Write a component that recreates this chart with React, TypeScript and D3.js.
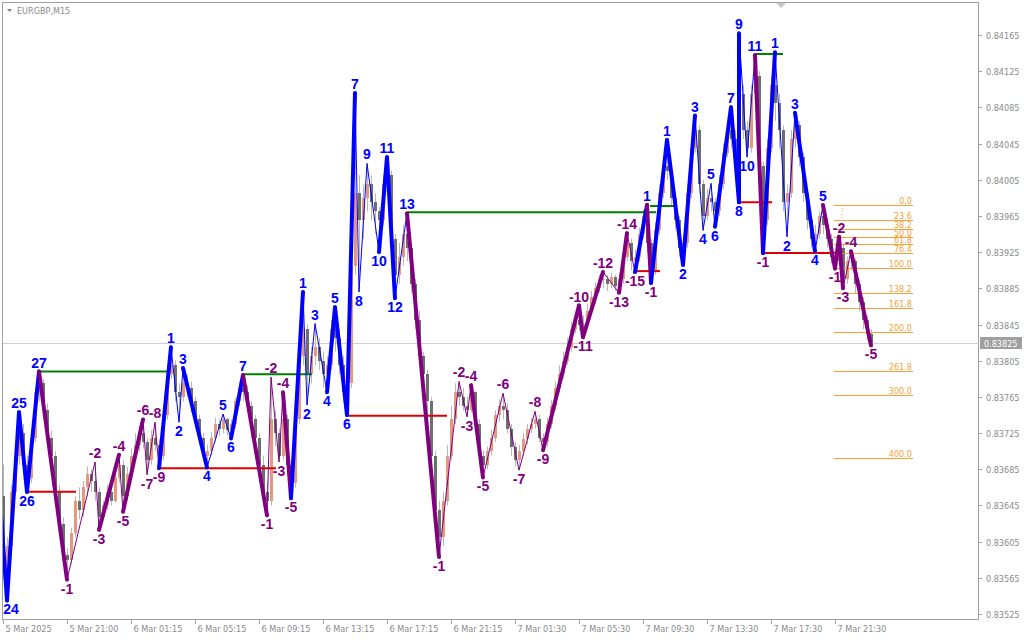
import React from 'react';
import * as d3 from 'd3';

// ---------- data (prices in points, 1 point = 0.00001) ----------
const firstOpen = 83655;
const closes = [
  83575, 83600, 83660, 83700, 83725, 83690, 83675, 83720, 83770, 83780,
  83750, 83720, 83700, 83660, 83625, 83590, 83585, 83615, 83650, 83640,
  83665, 83680, 83672, 83660, 83632, 83645, 83660, 83650, 83675, 83690,
  83655, 83680, 83700, 83712, 83725, 83715, 83695, 83720, 83712, 83700,
  83745, 83790, 83800, 83770, 83765, 83780, 83775, 83760, 83740, 83720,
  83700, 83705, 83720, 83735, 83730, 83740, 83728, 83735, 83760, 83775,
  83770, 83755, 83740, 83720, 83690, 83660, 83650, 83740, 83725, 83700,
  83740, 83690, 83670, 83740, 83810, 83840, 83790, 83810, 83820, 83805,
  83790, 83800, 83840, 83830, 83800, 83770, 83780, 83910, 83990, 83960,
  83985, 84000, 83980, 83970, 83960, 84000, 84010, 83940, 83900, 83920,
  83945, 83930, 83890, 83850, 83810, 83790, 83760, 83700, 83640, 83610,
  83650, 83700, 83740, 83770, 83765, 83755, 83750, 83770, 83735, 83700,
  83690, 83705, 83720, 83745, 83755, 83750, 83730, 83710, 83695, 83705,
  83718, 83730, 83735, 83740, 83720, 83715, 83735, 83755, 83775, 83790,
  83805, 83820, 83840, 83850, 83845, 83845, 83860, 83875, 83885, 83895,
  83895, 83890, 83898, 83888, 83895, 83920, 83935, 83915, 83920, 83945,
  83965, 83935, 83905, 83950, 83990, 84020, 84015, 83985, 83960, 83930,
  83935, 83990, 84040, 84060, 84000, 83965, 83985, 83980, 83970, 84000,
  84035, 84060, 84050, 84020, 84100, 84060, 84040, 84100, 84120, 84020,
  83960, 84040, 84110, 84090, 84060, 83980, 83990, 84050, 84065, 84030,
  83990, 83960, 83940, 83945, 83965, 83955, 83940, 83920, 83915, 83930,
  83895, 83915, 83915, 83890, 83870, 83850, 83835, 83825,
];
const highs = [
  83690, 83610, 83668, 83712, 83748, 83735, 83700, 83728, 83775, 83793,
  83785, 83758, 83728, 83705, 83668, 83632, 83598, 83620, 83655, 83665,
  83672, 83688, 83685, 83693, 83665, 83650, 83668, 83672, 83685, 83701,
  83695, 83688, 83708, 83725, 83733, 83740, 83720, 83728, 83737, 83718,
  83755, 83800, 83820, 83805, 83780, 83797, 83790, 83782, 83765, 83745,
  83725, 83712, 83726, 83742, 83740, 83746, 83742, 83740, 83765, 83782,
  83789, 83778, 83760, 83745, 83725, 83700, 83672, 83787, 83750, 83730,
  83770, 83745, 83695, 83748, 83820, 83881, 83845, 83820, 83846, 83830,
  83815, 83810, 83850, 83864, 83840, 83810, 83795, 83920, 84101, 84010,
  84000, 84023, 84010, 83990, 83975, 84010, 84030, 84015, 83945, 83935,
  83955, 83968, 83935, 83895, 83860, 83815, 83795, 83765, 83705, 83650,
  83660, 83712, 83755, 83780, 83782, 83775, 83765, 83778, 83772, 83740,
  83705, 83710, 83728, 83750, 83762, 83769, 83758, 83735, 83715, 83712,
  83725, 83735, 83742, 83749, 83745, 83725, 83742, 83762, 83782, 83800,
  83815, 83830, 83848, 83858, 83866, 83855, 83868, 83882, 83892, 83900,
  83903, 83900, 83902, 83900, 83902, 83930, 83946, 83940, 83928, 83952,
  83972, 83977, 83940, 83958, 84000, 84030, 84049, 84025, 83990, 83965,
  83945, 84000, 84050, 84076, 84065, 84005, 83995, 84001, 83985, 84010,
  84045, 84070, 84085, 84060, 84167, 84110, 84070, 84110, 84143, 84125,
  84025, 84050, 84120, 84146, 84100, 84065, 84000, 84060, 84079, 84070,
  84035, 83995, 83965, 83955, 83970, 83977, 83960, 83945, 83925, 83942,
  83935, 83920, 83926, 83918, 83895, 83875, 83855, 83840,
];
const lows = [
  83565, 83540, 83592, 83655, 83690, 83680, 83660, 83670, 83715, 83760,
  83745, 83712, 83690, 83650, 83615, 83580, 83563, 83580, 83610, 83630,
  83632, 83655, 83660, 83650, 83618, 83628, 83640, 83645, 83648, 83670,
  83638, 83650, 83675, 83695, 83705, 83708, 83679, 83690, 83705, 83686,
  83695, 83740, 83785, 83760, 83737, 83760, 83765, 83748, 83730, 83712,
  83695, 83687, 83700, 83715, 83722, 83725, 83722, 83719, 83730, 83755,
  83760, 83748, 83720, 83700, 83680, 83645, 83634, 83645, 83710, 83693,
  83695, 83680, 83653, 83665, 83735, 83800, 83756, 83780, 83800, 83795,
  83775, 83770, 83795, 83815, 83790, 83760, 83745, 83775, 83900, 83881,
  83940, 83970, 83960, 83945, 83925, 83955, 83990, 83930, 83874, 83890,
  83910, 83915, 83880, 83840, 83800, 83770, 83740, 83690, 83620, 83588,
  83600, 83645, 83695, 83735, 83755, 83750, 83743, 83748, 83725, 83690,
  83676, 83685, 83700, 83715, 83738, 83740, 83725, 83700, 83688, 83684,
  83700, 83712, 83725, 83730, 83715, 83706, 83710, 83730, 83750, 83770,
  83785, 83800, 83815, 83835, 83838, 83831, 83840, 83855, 83868, 83880,
  83885, 83882, 83885, 83882, 83880, 83890, 83915, 83905, 83903, 83915,
  83940, 83925, 83891, 83900, 83945, 83985, 84005, 83975, 83950, 83920,
  83911, 83930, 83985, 84035, 83990, 83949, 83960, 83970, 83953, 83965,
  83995, 84030, 84040, 84010, 83980, 84050, 84030, 84035, 84090, 84000,
  83924, 83955, 84035, 84070, 84040, 83970, 83942, 83985, 84040, 84020,
  83980, 83950, 83930, 83926, 83940, 83945, 83930, 83912, 83907, 83910,
  83885, 83890, 83905, 83880, 83860, 83840, 83828, 83822,
];

// zigzag wave-count pivots
const zzBars = [
  -2, 1, 4, 6, 9, 16, 23, 24, 29, 30, 35, 36, 38, 39, 42, 44, 45, 51, 55, 57,
  60, 66, 67, 69, 70, 72, 75, 76, 78, 81, 83, 86, 88, 89, 91, 94, 96, 98, 101, 109,
  114, 116, 117, 120, 125, 129, 133, 135, 144, 145, 150, 154, 156, 158, 161, 162, 166, 170, 173, 175,
  177, 178, 182, 184, 184, 186, 188, 190, 193, 196, 198, 203, 205, 208, 209, 210, 212, 217,
];
const zzPrices = [
  83732, 83540, 83748, 83660, 83793, 83563, 83693, 83618, 83701, 83638, 83740, 83679, 83737, 83686, 83820, 83737, 83797, 83687, 83746, 83719,
  83789, 83634, 83787, 83693, 83770, 83653, 83881, 83756, 83846, 83770, 83864, 83745, 84101, 83881, 84023, 83925, 84030, 83874, 83968, 83588,
  83782, 83743, 83778, 83676, 83769, 83684, 83749, 83706, 83866, 83831, 83903, 83880, 83946, 83903, 83977, 83891, 84049, 83911, 84076, 83949,
  84001, 83953, 84085, 83980, 84167, 84030, 84143, 83924, 84146, 83942, 84079, 83926, 83977, 83907, 83942, 83885, 83926, 83822,
];
const zzLabels = [
  '23', '24', '25', '26', '27', '-1', '-2', '-3', '-4', '-5', '-6', '-7', '-8', '-9', '1', '2', '3', '4', '5', '6',
  '7', '-1', '-2', '-3', '-4', '-5', '1', '2', '3', '4', '5', '6', '7', '8', '9', '10', '11', '12', '13', '-1',
  '-2', '-3', '-4', '-5', '-6', '-7', '-8', '-9', '-10', '-11', '-12', '-13', '-14', '-15', '1', '-1', '1', '2', '3', '4',
  '5', '6', '7', '8', '9', '10', '11', '-1', '1', '2', '3', '4', '5', '-1', '-2', '-3', '-4', '-5',
];
// segment kinds: B = bull major, b = bull minor, P = bear major, p = bear minor
const zzSegKinds =
  'BBBBPppPpPpppBbbBbbBPpppPBbbbBBBbbbBBb' + 'PpppPppppPPPpPpBPBBBbbbBBBbbPBbbBbPPPpP';

// break levels: start bar, end bar, price, kind (up = resistance, down = support)
const lvlStart = [9, 6.5, 39.25, 60, 86, 101.25, 161.75, 158.25, 184, 188, 190];
const lvlEnd = [41.75, 18.25, 68.25, 77.25, 111, 163.25, 168.25, 164.25, 192.25, 195, 208];
const lvlPrice = [83793, 83660, 83686, 83790, 83744, 83969, 83976, 83904, 83980, 84144, 83924];
const lvlKind = ['up', 'down', 'down', 'up', 'down', 'up', 'up', 'down', 'down', 'up', 'down'];

// fibonacci projection
const fibLevels = [0, 23.6, 38.2, 50, 61.8, 76.4, 100, 138.2, 161.8, 200, 261.8, 300, 400];
const fibP0 = 83977;
const fibP100 = 83907;
const fibStartBar = 207.75;
const fibEndBar = 227.5;

const timeLabels = [
  '5 Mar 2025', '5 Mar 21:00', '6 Mar 01:15', '6 Mar 05:15', '6 Mar 09:15', '6 Mar 13:15', '6 Mar 17:15',
  '6 Mar 21:15', '7 Mar 01:30', '7 Mar 05:30', '7 Mar 09:30', '7 Mar 13:30', '7 Mar 17:30', '7 Mar 21:30',
];
const timeLabelBars = [0, 16, 32, 48, 64, 80, 96, 112, 128, 144, 160, 176, 192, 208];
const priceTicks = [
  83525, 83565, 83605, 83645, 83685, 83725, 83765, 83805, 83845, 83885, 83925, 83965, 84005, 84045, 84085, 84125, 84165,
];
const currentPrice = 83825;
const symbol = 'EURGBP,M15';

// ---------- drawing ----------
const BLUE = '#0000FF';
const PURPLE = '#800080';
const GREEN = '#008000';
const RED = '#DD0000';
const ORANGE = '#F4A236';
const AXIS_FONT = 'Tahoma, "DejaVu Sans Condensed", "DejaVu Sans", sans-serif';
const LABEL_FONT = '"Liberation Sans", Arial, sans-serif';

export default function App() {
  const plotL = 2, plotT = 2, plotR = 978, plotB = 619;
  const x = d3.scaleLinear().domain([0, 217]).range([3, 871]);
  const y = d3.scaleLinear().domain([83525, 84165]).range([614, 35]);

  const opens = closes.map((c, i) => (i === 0 ? firstOpen : closes[i - 1]));

  const candles = closes.map((c, i) => {
    const o = opens[i];
    const hi = Math.max(highs[i], o, c);
    const lo = Math.min(lows[i], o, c);
    const cx = Math.round(x(i));
    const bull = c >= o;
    const top = Math.round(y(Math.max(o, c)));
    const bot = Math.round(y(Math.min(o, c)));
    return (
      <g key={'c' + i}>
        <line x1={cx + 0.5} x2={cx + 0.5} y1={y(hi)} y2={y(lo)} stroke="#B8B8B8" strokeWidth={1} />
        <rect x={cx - 1} y={top} width={3} height={Math.max(1, bot - top)} fill={bull ? '#E9967A' : '#6E6E6E'} />
      </g>
    );
  });

  const segs = [];
  for (let i = 0; i < zzBars.length - 1; i++) {
    const k = zzSegKinds[i];
    const major = k === 'B' || k === 'P';
    const color = k === 'B' || k === 'b' ? BLUE : PURPLE;
    segs.push({
      x1: x(zzBars[i]), y1: y(zzPrices[i]), x2: x(zzBars[i + 1]), y2: y(zzPrices[i + 1]),
      color, major, key: 's' + i,
    });
  }

  const isHigh = zzPrices.map((p, i) => {
    const prev = i > 0 ? zzPrices[i - 1] : null;
    const next = i < zzPrices.length - 1 ? zzPrices[i + 1] : null;
    if (next !== null) return p > next;
    return prev !== null ? p > prev : true;
  });

  const priceAt = (L) => fibP0 - (fibP0 - fibP100) * L / 100;

  return (
    <svg width={1024} height={640} style={{ position: 'absolute', left: 0, top: 0, background: '#fff' }}>
      <defs>
        <clipPath id="plot">
          <rect x={plotL} y={plotT} width={plotR - plotL} height={plotB - plotT} />
        </clipPath>
      </defs>
      <rect x={0} y={0} width={1024} height={640} fill="#fff" />
      <g clipPath="url(#plot)">
        {/* current price line */}
        <line x1={plotL} x2={plotR} y1={Math.round(y(currentPrice)) + 0.5} y2={Math.round(y(currentPrice)) + 0.5} stroke="#D0D0D0" />
        {candles}
        {/* levels */}
        {lvlStart.map((s, i) => (
          <line key={'l' + i} x1={x(s)} x2={x(lvlEnd[i])} y1={y(lvlPrice[i])} y2={y(lvlPrice[i])}
            stroke={lvlKind[i] === 'up' ? GREEN : RED} strokeWidth={2} />
        ))}
        {/* fibonacci */}
        {fibLevels.map((L, i) => {
          const yy = Math.round(y(priceAt(L))) + 0.5;
          return (
            <g key={'f' + i}>
              <line x1={x(fibStartBar)} x2={x(fibEndBar)} y1={yy} y2={yy} stroke={ORANGE} strokeWidth={1} />
              <text x={x(fibEndBar) - 1} y={yy - 2} textAnchor="end" fontFamily={AXIS_FONT} fontSize={9} fill={ORANGE}>
                {L.toFixed(1)}
              </text>
            </g>
          );
        })}
        <line x1={x(210)} y1={y(fibP0)} x2={x(209.3)} y2={y(83945)} stroke={ORANGE} strokeDasharray="1,2" />
        {/* zigzag minor then major */}
        {segs.filter((s) => !s.major).map((s) => (
          <line key={s.key} x1={s.x1} y1={s.y1} x2={s.x2} y2={s.y2} stroke={s.color} strokeWidth={1} />
        ))}
        {segs.filter((s) => s.major).map((s) => (
          <line key={s.key} x1={s.x1} y1={s.y1} x2={s.x2} y2={s.y2} stroke={s.color} strokeWidth={4} strokeLinecap="round" />
        ))}
        {/* labels */}
        {zzLabels.map((t, i) => {
          const px = i === 0 ? x(zzBars[i]) : Math.max(x(zzBars[i]), plotL + 9);
          const py = y(zzPrices[i]);
          const neg = t.startsWith('-');
          return (
            <text key={'t' + i} x={px} y={isHigh[i] ? py - 4 : py + 14} textAnchor="middle"
              fontFamily={LABEL_FONT} fontWeight="bold" fontSize={14} fill={neg ? PURPLE : BLUE}>
              {t}
            </text>
          );
        })}
      </g>
      {/* frame */}
      <rect x={plotL + 0.5} y={plotT + 0.5} width={plotR - plotL} height={plotB - plotT} fill="none" stroke="#A0A0A0" />
      {/* shift marker */}
      <path d="M776,3 L786,3 L781,8 Z" fill="#C8C8C8" />
      {/* title */}
      <path d="M7,9 L12,9 L9.5,12 Z" fill="#808080" />
      <text x={17} y={14} fontFamily={AXIS_FONT} fontSize={9} fill="#8A8A8A">{symbol}</text>
      {/* price axis */}
      {priceTicks.map((p, i) => {
        const yy = Math.round(y(p)) + 0.5;
        return (
          <g key={'p' + i}>
            <line x1={plotR + 1} x2={plotR + 4} y1={yy} y2={yy} stroke="#A0A0A0" />
            <text x={986} y={yy + 3} fontFamily={AXIS_FONT} fontSize={9} fill="#8A8A8A">
              {(p / 100000).toFixed(5)}
            </text>
          </g>
        );
      })}
      <rect x={980} y={Math.round(y(currentPrice)) - 6} width={42} height={12} fill="#A0A0A0" />
      <text x={984} y={Math.round(y(currentPrice)) + 4} fontFamily={AXIS_FONT} fontSize={9} fill="#fff">
        {(currentPrice / 100000).toFixed(5)}
      </text>
      {/* time axis */}
      {timeLabels.map((t, i) => {
        const xx = Math.round(x(timeLabelBars[i])) + 0.5;
        return (
          <g key={'tl' + i}>
            <line x1={xx} x2={xx} y1={plotB + 1} y2={plotB + 5} stroke="#A0A0A0" />
            <text x={xx + 2} y={632} fontFamily={AXIS_FONT} fontSize={9} fill="#8A8A8A">{t}</text>
          </g>
        );
      })}
    </svg>
  );
}
